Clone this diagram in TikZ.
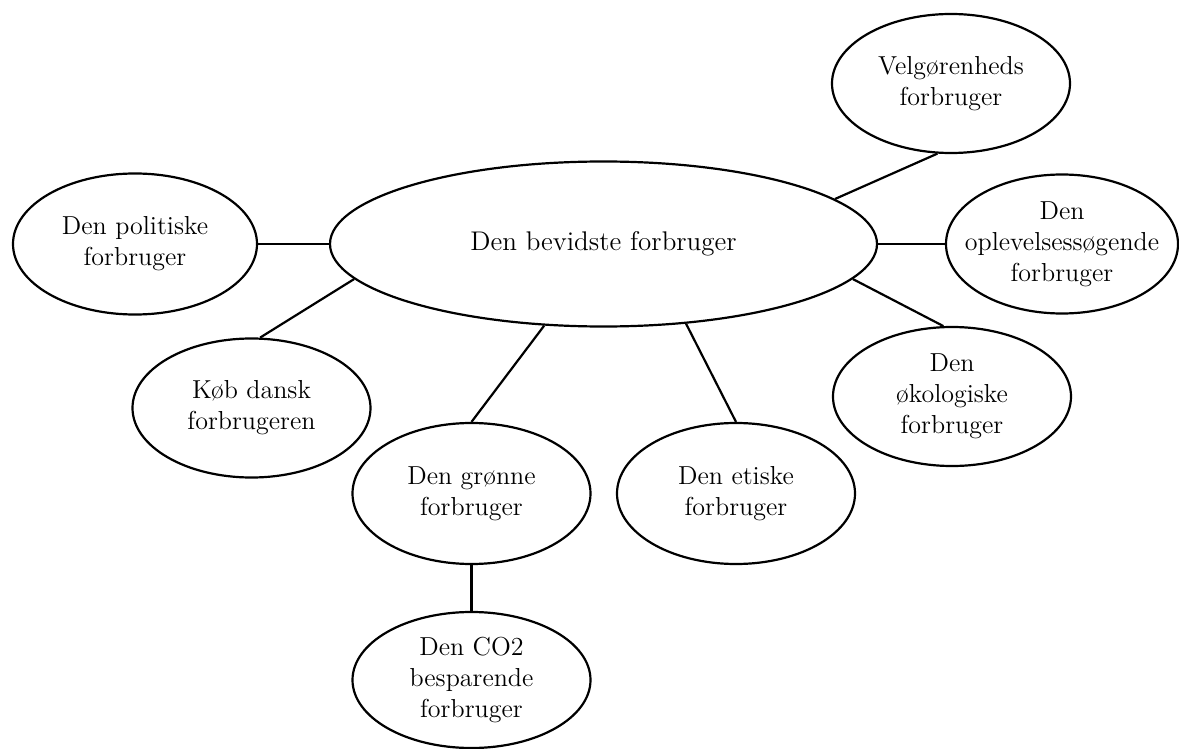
\documentclass[tikz,border=0pt]{standalone}
\usepackage{tikz}
\usetikzlibrary{shapes.geometric}

\begin{document}
\begin{tikzpicture}[x=0.5pt,y=-0.5pt,
        bubble/.style={draw,ellipse,line width=1.1pt,inner sep=-14pt,minimum width=119pt,minimum height=69.5pt,align=center,font=\fontsize{13}{15.5}\selectfont},
        link/.style={line width=1.1pt}]
        \useasboundingbox (0,0) rectangle (1179,749);

        \node[bubble,minimum width=273.5pt,minimum height=82.5pt,font=\fontsize{13.5}{16}\selectfont] (main) at (603.5,244) {Den bevidste forbruger};
        \node[bubble,minimum width=122pt,minimum height=70.5pt] (pol) at (135,244) {Den politiske\\forbruger};
        \node[bubble] (velg) at (951,83.5) {Velgørenheds\\forbruger};
        \node[bubble,minimum width=116pt] (opl) at (1062,244) {Den\\oplevelsessøgende\\forbruger};
        \node[bubble] (koeb) at (251.5,408) {Køb dansk\\forbrugeren};
        \node[bubble] (oeko) at (952,396.5) {Den\\økologiske\\forbruger};
        \node[bubble,minimum height=70.5pt] (groen) at (471.5,493.5) {Den grønne\\forbruger};
        \node[bubble,minimum height=70.5pt] (etik) at (736,493.5) {Den etiske\\forbruger};
        \node[bubble,minimum height=68pt] (co2) at (471.5,680) {Den CO2\\besparende\\forbruger};

        %main>left
        \draw[link] (main.west) -- (pol.east);
        \draw[link] (main.188) -- (koeb.83);
        %main>down
        \draw[link] (main.234) -- (groen.north);
        \draw[link] (main.316) -- (etik.north);
        %main>right
        \draw[link] (main.11) -- (velg.259);
        \draw[link] (main.east) -- (opl.west);
        \draw[link] (main.352) -- (oeko.97);
        %groen>co2
        \draw[link] (groen.south) -- (co2.north);
\end{tikzpicture}
\end{document}
